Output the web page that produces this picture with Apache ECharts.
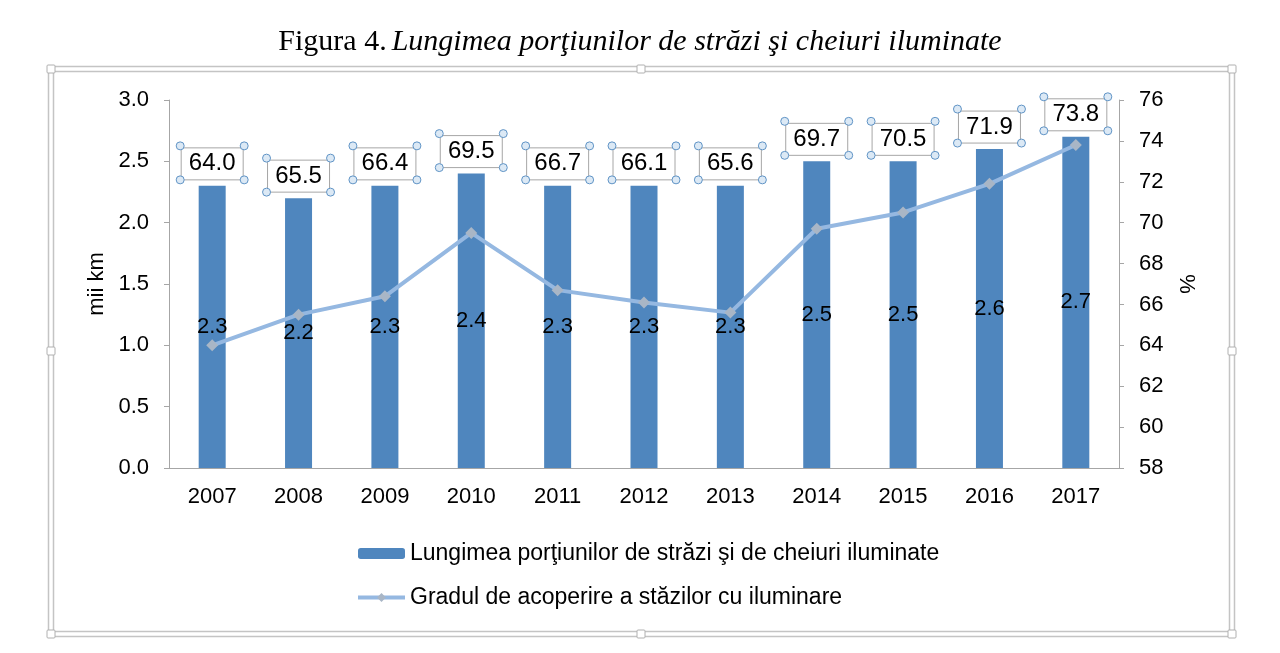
<!DOCTYPE html>
<html>
<head>
    <meta charset="UTF-8">
    <title>Figura 4</title>
    <script src="https://cdn.jsdelivr.net/npm/echarts@6/dist/echarts.min.js"></script>
    <style>
        html, body { margin: 0; padding: 0; background: #fff; }
        #chart { width: 1280px; height: 653px; }
    </style>
</head>
<body>
<div id="chart"></div>
<script>
    // date
    var years = ['2007','2008','2009','2010','2011','2012','2013','2014','2015','2016','2017'];
    var lungime = [2.3, 2.2, 2.3, 2.4, 2.3, 2.3, 2.3, 2.5, 2.5, 2.6, 2.7];   // mii km
    var gradul = [64.0, 65.5, 66.4, 69.5, 66.7, 66.1, 65.6, 69.7, 70.5, 71.9, 73.8]; // %
    var leftTicks = [0, 3, 0.5];   // min, max, pas
    var rightTicks = [58, 76, 2];

    var numeBar = 'Lungimea porţiunilor de străzi şi de cheiuri iluminate';
    var numeLine = 'Gradul de acoperire a stăzilor cu iluminare';

    var axisColor = '#a6a6a6';
    var font = 'Liberation Sans, Arial, sans-serif';
    var boxW = 64, boxH = 34, boxGap = 6;

    var chart = echarts.init(document.getElementById('chart'));

    var option = {
        animation: false,
        title: {
            text: '{a|Figura 4.} {b|Lungimea porţiunilor de străzi şi cheiuri iluminate}',
            left: 'center',
            top: 22,
            textStyle: {
                rich: {
                    a: { fontFamily: 'Liberation Serif, serif', fontSize: 30, fontWeight: 'normal', color: '#000' },
                    b: { fontFamily: 'Liberation Serif, serif', fontSize: 30, fontWeight: 'normal', fontStyle: 'italic', color: '#000' }
                }
            }
        },
        legend: {
            orient: 'vertical',
            left: 351,
            top: 537,
            itemWidth: 47,
            itemHeight: 11,
            itemGap: 21,
            lineStyle: { width: 4 },
            data: [numeBar, numeLine],
            textStyle: { fontFamily: font, fontSize: 23, color: '#000', padding: [0, 0, 0, 0] }
        },
        grid: { left: 169, right: 161, top: 100, bottom: 185 },
        xAxis: {
            type: 'category',
            data: years,
            axisLine: { lineStyle: { color: axisColor } },
            axisTick: { show: false },
            axisLabel: { fontFamily: font, fontSize: 22, color: '#000', margin: 18 }
        },
        yAxis: [{
            type: 'value',
            min: leftTicks[0], max: leftTicks[1], interval: leftTicks[2],
            name: 'mii km',
            nameLocation: 'middle',
            nameGap: 58,
            nameTextStyle: { fontFamily: font, fontSize: 22, color: '#000' },
            axisLine: { show: true, lineStyle: { color: axisColor } },
            axisTick: { show: true, length: 5, lineStyle: { color: axisColor } },
            splitLine: { show: false },
            axisLabel: {
                fontFamily: font, fontSize: 22, color: '#000', margin: 20,
                formatter: function (v) { return v.toFixed(1); }
            }
        }, {
            type: 'value',
            min: rightTicks[0], max: rightTicks[1], interval: rightTicks[2],
            name: '%',
            nameLocation: 'middle',
            nameRotate: -90,
            nameGap: 56,
            nameTextStyle: { fontFamily: font, fontSize: 22, color: '#000' },
            axisLine: { show: true, lineStyle: { color: axisColor } },
            axisTick: { show: true, length: 5, lineStyle: { color: axisColor } },
            splitLine: { show: false },
            axisLabel: { fontFamily: font, fontSize: 22, color: '#000', margin: 20 }
        }],
        series: [{
            name: numeBar,
            type: 'bar',
            data: lungime,
            barWidth: 27,
            itemStyle: { color: '#4f86be' },
            label: {
                show: true,
                position: 'inside',
                fontFamily: font, fontSize: 22, color: '#000',
                formatter: function (p) { return p.value.toFixed(1); }
            }
        }, {
            // bara transparenta, doar pentru etichetele cu procente deasupra barelor
            name: 'etichete',
            type: 'bar',
            data: lungime,
            barWidth: 27,
            barGap: '-100%',
            silent: true,
            itemStyle: { color: 'rgba(0,0,0,0)' },
            label: {
                show: true,
                position: 'top',
                distance: boxGap,
                width: boxW - 2 - 12,
                height: boxH - 2 - 8,
                lineHeight: boxH - 10,
                align: 'center',
                padding: [4, 6],
                borderColor: axisColor,
                borderWidth: 1,
                fontFamily: font, fontSize: 24, color: '#000',
                formatter: function (p) { return gradul[p.dataIndex].toFixed(1); }
            }
        }, {
            name: numeLine,
            type: 'line',
            yAxisIndex: 1,
            data: gradul,
            symbol: 'diamond',
            symbolSize: 12,
            lineStyle: { color: '#95b8e1', width: 4 },
            itemStyle: { color: '#a9b6c6' },
            z: 5
        }]
    };

    chart.setOption(option);

    // rama si manerele (decor, ca in captura)
    function decor() {
        var gr = [];
        gr.push({ type: 'rect', shape: { x: 48.5, y: 66.5, width: 1186, height: 570 }, style: { fill: 'none', stroke: '#c4c4c4', lineWidth: 1.5 }, silent: true });
        gr.push({ type: 'rect', shape: { x: 53.5, y: 71.5, width: 1176, height: 560 }, style: { fill: 'none', stroke: '#c4c4c4', lineWidth: 1.5 }, silent: true });
        var sq = [[51, 69], [641, 69], [1232, 69], [51, 351], [1232, 351], [51, 634], [641, 634], [1232, 634]];
        sq.forEach(function (p) {
            gr.push({ type: 'rect', shape: { x: p[0] - 4, y: p[1] - 4, width: 8, height: 8, r: 1 }, style: { fill: '#fff', stroke: '#b0b0b0', lineWidth: 1 }, silent: true });
        });
        // cercurile din colturile etichetelor
        for (var i = 0; i < years.length; i++) {
            var cx = chart.convertToPixel({ xAxisIndex: 0 }, i);
            var barTop = chart.convertToPixel({ yAxisIndex: 0 }, lungime[i]);
            var yb = barTop - boxGap, yt = yb - boxH;
            [[cx - boxW / 2, yt], [cx + boxW / 2, yt], [cx - boxW / 2, yb], [cx + boxW / 2, yb]].forEach(function (c) {
                gr.push({ type: 'circle', shape: { cx: c[0], cy: c[1], r: 4 }, style: { fill: '#dce9f5', stroke: '#5f93c5', lineWidth: 1 }, silent: true, z: 10 });
            });
        }
        chart.setOption({ graphic: gr });
    }
    decor();
</script>
</body>
</html>
